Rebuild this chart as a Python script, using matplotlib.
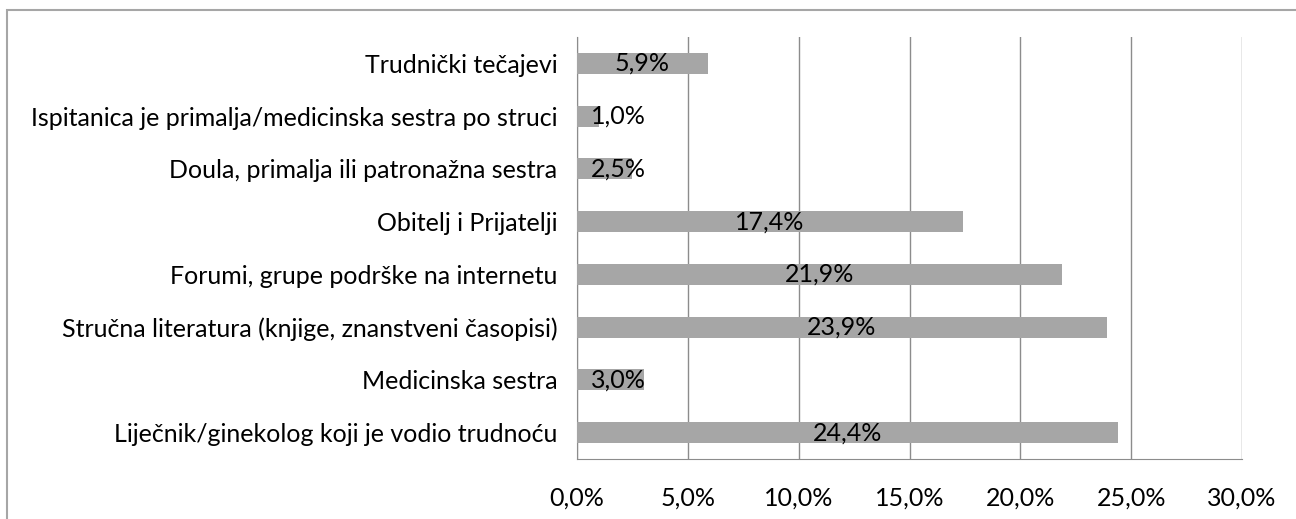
import matplotlib.pyplot as plt
from matplotlib.patches import Rectangle

CATEGORIES = [
    "Liječnik/ginekolog koji je vodio trudnoću",
    "Medicinska sestra",
    "Stručna literatura (knjige, znanstveni časopisi)",
    "Forumi, grupe podrške na internetu",
    "Obitelj i Prijatelji",
    "Doula, primalja ili patronažna sestra",
    "Ispitanica je primalja/medicinska sestra po struci",
    "Trudnički tečajevi",
]
VALUES = [24.4, 3.0, 23.9, 21.9, 17.4, 2.5, 1.0, 5.9]
X_TICKS = [0, 5, 10, 15, 20, 25, 30]

plt.rcParams["font.family"] = ["Lato", "DejaVu Sans"]
FS = 18
# labels of short bars are pushed right so they stay clear of the axis (as Excel does)
MIN_LABEL_X = 1.85

fig = plt.figure(figsize=(12.96, 5.19), dpi=100)
ax = fig.add_axes([577 / 1296, 1 - 459 / 519, 665 / 1296, 422 / 519])

y = range(len(CATEGORIES))
ax.barh(y, VALUES, height=0.4, color="#a6a6a6", zorder=3)
for i, v in enumerate(VALUES):
    ax.text(max(v / 2, MIN_LABEL_X), i, f"{v:.1f}%".replace(".", ","),
            ha="center", va="center", fontsize=FS, color="black", zorder=4)

ax.set_xlim(0, 30)
ax.set_ylim(-0.5, len(CATEGORIES) - 0.5)
ax.set_xticks(X_TICKS)
ax.set_xticklabels([f"{t:.1f}%".replace(".", ",") for t in X_TICKS], fontsize=FS)
ax.set_yticks(list(y))
ax.set_yticklabels(CATEGORIES, fontsize=FS)
ax.tick_params(axis="both", length=0)
ax.tick_params(axis="x", pad=20)
ax.tick_params(axis="y", pad=14)
ax.grid(axis="x", color="#8c8c8c", linewidth=1, zorder=0)
for s in ["top", "right"]:
    ax.spines[s].set_visible(False)
ax.spines["left"].set_color("#8c8c8c")
ax.spines["bottom"].set_color("#8c8c8c")

fig.patches.append(Rectangle((7 / 1296, -0.1), 1.2, 1 - 10 / 519 + 0.1,
                             transform=fig.transFigure, fill=False,
                             edgecolor="#a6a6a6", linewidth=1.5))

fig.savefig("out.png", dpi=100)
